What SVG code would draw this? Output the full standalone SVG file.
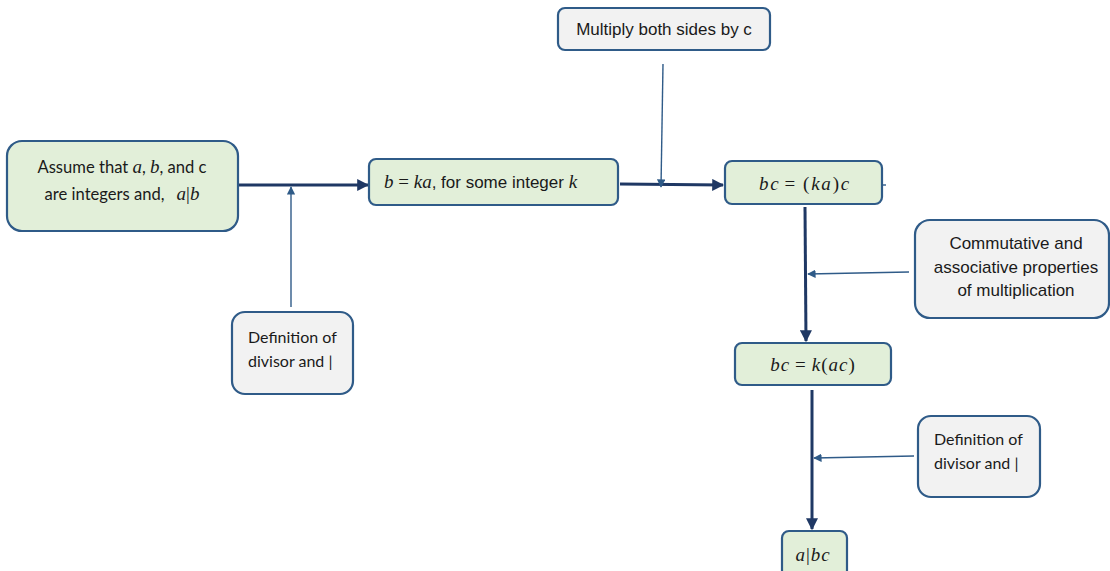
<svg xmlns="http://www.w3.org/2000/svg" width="1110" height="571" viewBox="0 0 1110 571">
  <style>
    .step { fill: #e2efd9; stroke: #2f5b88; stroke-width: 2.2; }
    .note { fill: #f2f2f2; stroke: #2f5b88; stroke-width: 2.2; }
    .sans { font-family: "Liberation Sans", Arial, sans-serif; font-size: 17px; fill: #1a1a1a; }
    .cal { font-family: Lato, "Liberation Sans", sans-serif; font-size: 16px; fill: #1a1a1a; }
    .cal.big { font-size: 16.6px; }
    .math { font-family: "Liberation Serif", "DejaVu Serif", serif; font-style: italic; font-size: 19px; fill: #1a1a1a; }
    .up { font-style: normal; }
    .main { stroke: #1f3864; stroke-width: 3; fill: none; }
    .aux { stroke: #2f5b88; stroke-width: 1.4; fill: none; }
  </style>
  <defs>
    <marker id="headMain" viewBox="0 0 10 10" refX="9" refY="5" markerWidth="4" markerHeight="4" orient="auto" markerUnits="strokeWidth">
      <path d="M0,0 L10,5 L0,10 z" fill="#1f3864"/>
    </marker>
    <marker id="headAux" viewBox="0 0 10 10" refX="9" refY="5" markerWidth="6" markerHeight="6" orient="auto" markerUnits="strokeWidth">
      <path d="M0,0 L10,5 L0,10 z" fill="#2f5b88"/>
    </marker>
  </defs>

  <g id="connectors">
    <line class="main" x1="239" y1="185" x2="368" y2="185" marker-end="url(#headMain)"/>
    <line class="aux" x1="291" y1="307" x2="291" y2="187" marker-end="url(#headAux)"/>
    <line class="main" x1="620" y1="184" x2="723" y2="185" marker-end="url(#headMain)"/>
    <line class="aux" x1="663" y1="64" x2="661" y2="187" marker-end="url(#headAux)"/>
    <line x1="883" y1="185" x2="886" y2="185" stroke="#2f5b88" stroke-width="1.4"/>
    <line class="main" x1="805" y1="207" x2="806" y2="341" marker-end="url(#headMain)"/>
    <line class="aux" x1="909" y1="272" x2="808" y2="274" marker-end="url(#headAux)"/>
    <line class="main" x1="812" y1="390" x2="812" y2="529" marker-end="url(#headMain)"/>
    <line class="aux" x1="914" y1="456" x2="814" y2="458" marker-end="url(#headAux)"/>
  </g>

  <g id="assume">
    <rect class="step" x="7" y="141" width="231" height="90" rx="15"/>
    <text class="cal big" x="122" y="173" text-anchor="middle">Assume that <tspan class="math">a</tspan>, <tspan class="math">b</tspan>, and c</text>
    <text class="cal big" x="122" y="200" text-anchor="middle">are integers and,<tspan class="math" dx="12">a</tspan><tspan class="math up">|</tspan><tspan class="math">b</tspan></text>
  </g>

  <g id="b-eq-ka">
    <rect class="step" x="369" y="159" width="249" height="46" rx="7"/>
    <text class="sans" x="384" y="188"><tspan class="math">b</tspan><tspan class="math up"> = </tspan><tspan class="math">ka</tspan>, for some integer <tspan class="math">k</tspan></text>
  </g>

  <g id="multiply">
    <rect class="note" x="558" y="8" width="212" height="42" rx="7"/>
    <text class="sans" x="664" y="35" text-anchor="middle">Multiply both sides by c</text>
  </g>

  <g id="bc-eq-kac">
    <rect class="step" x="725" y="161" width="157" height="43" rx="7"/>
    <text class="math" x="805" y="190" text-anchor="middle" letter-spacing="1.8">bc<tspan class="up" dx="4">=</tspan><tspan class="up" dx="6">(</tspan>ka<tspan class="up">)</tspan>c</text>
  </g>

  <g id="definition-left">
    <rect class="note" x="232" y="312" width="121" height="82" rx="13"/>
    <text class="cal" x="248" y="343">Definition of</text>
    <text class="cal" x="248" y="367">divisor and |</text>
  </g>

  <g id="commutative">
    <rect class="note" x="915" y="220" width="194" height="98" rx="15"/>
    <text class="sans" x="1016" y="249" text-anchor="middle">Commutative and</text>
    <text class="sans" x="1016" y="273" text-anchor="middle">associative properties</text>
    <text class="sans" x="1016" y="296" text-anchor="middle">of multiplication</text>
  </g>

  <g id="bc-eq-k-ac">
    <rect class="step" x="735" y="343" width="156" height="42" rx="7"/>
    <text class="math" x="813" y="371" text-anchor="middle" letter-spacing="1">bc<tspan class="up" dx="5">=</tspan><tspan dx="5">k</tspan><tspan class="up">(</tspan>ac<tspan class="up">)</tspan></text>
  </g>

  <g id="definition-right">
    <rect class="note" x="918" y="416" width="122" height="81" rx="13"/>
    <text class="cal" x="934" y="445">Definition of</text>
    <text class="cal" x="934" y="469">divisor and |</text>
  </g>

  <g id="a-divides-bc">
    <rect class="step" x="782" y="531" width="65" height="48" rx="7"/>
    <text class="math" x="813" y="561" text-anchor="middle" letter-spacing="1">a<tspan class="up">|</tspan>bc</text>
  </g>
</svg>
